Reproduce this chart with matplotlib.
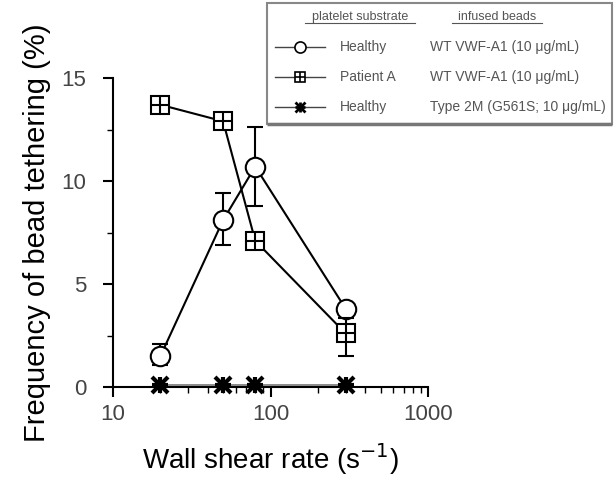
import matplotlib
matplotlib.use("Agg")
import matplotlib.pyplot as plt
from matplotlib.lines import Line2D
from matplotlib.patches import Rectangle

plt.rcParams["font.family"] = ["Liberation Sans", "DejaVu Sans"]

# data
shear_rate = [20, 50, 80, 300]

healthy_wt = [1.5, 8.1, 10.7, 3.8]
healthy_wt_lo = [0.45, 1.2, 1.9, 0.25]
healthy_wt_hi = [0.6, 1.3, 1.9, 0.25]

patient_a_wt = [13.7, 12.9, 7.1, 2.6]
patient_a_wt_lo = [0.15, 0.15, 0.2, 1.1]
patient_a_wt_hi = [0.15, 0.15, 0.2, 0.75]

healthy_2m = [0.1, 0.1, 0.1, 0.1]

legend_rows = [
    ("Healthy", "WT VWF-A1 (10 \u03bcg/mL)"),
    ("Patient A", "WT VWF-A1 (10 \u03bcg/mL)"),
    ("Healthy", "Type 2M (G561S; 10 \u03bcg/mL)"),
]

W, H = 616, 482
fig = plt.figure(figsize=(W / 100, H / 100), dpi=100)
ax = fig.add_axes([113 / W, 1 - 387 / H, (428 - 113) / W, (387 - 78) / H])


def px(x, y):
    return x / W, 1 - y / H


# healthy platelets, WT beads (open circles)
ax.errorbar(shear_rate, healthy_wt, yerr=[healthy_wt_lo, healthy_wt_hi],
            color="black", lw=1.5, capsize=6, capthick=1.5, elinewidth=1.5,
            marker="o", ms=14, mfc="white", mec="black", mew=1.5, zorder=3)

# patient A, WT beads (squares with cross)
ax.errorbar(shear_rate, patient_a_wt, yerr=[patient_a_wt_lo, patient_a_wt_hi],
            color="black", lw=1.5, capsize=6, capthick=1.5, elinewidth=1.5,
            marker="s", ms=13, mfc="white", mec="black", mew=1.5, zorder=4)
ax.plot(shear_rate, patient_a_wt, ls="none", marker="+", ms=13,
        mec="black", mew=1.5, zorder=5)

# healthy platelets, type 2M beads (asterisks)
ax.plot(shear_rate, healthy_2m, color="#777777", lw=1.2, ls="-",
        zorder=5, clip_on=False)
for m in ["x", "+"]:
    ax.plot(shear_rate, healthy_2m, ls="none", marker=m, ms=12,
            mec="black", mew=3, zorder=6, clip_on=False)

ax.set_xscale("log")
ax.set_xlim(10, 1000)
ax.set_ylim(0, 15)
ax.set_yticks([0, 5, 10, 15])
ax.set_yticks([2.5, 7.5, 12.5], minor=True)
ax.set_xticks([10, 100, 1000])
ax.set_xticklabels(["10", "100", "1000"])
ax.spines["top"].set_visible(False)
ax.spines["right"].set_visible(False)
ax.spines["left"].set_linewidth(1.5)
ax.spines["bottom"].set_linewidth(1.5)
ax.tick_params(which="major", direction="out", length=7, width=1.5,
               labelsize=16, labelcolor="#444444")
ax.tick_params(which="minor", direction="out", length=4, width=1.0)
ax.tick_params(axis="y", which="major", pad=12)
ax.tick_params(axis="x", which="major", pad=5)
ax.set_xlabel("Wall shear rate (s$^{-1}$)", fontsize=20, labelpad=12)
ax.set_ylabel("Frequency of bead tethering (%)", fontsize=21, labelpad=8)

# legend box drawn by hand
fig.patches.append(Rectangle(px(267, 124), (612 - 267) / W, (124 - 3) / H,
                             transform=fig.transFigure, fill=False,
                             edgecolor="#888888", lw=1.5, zorder=10))
fig.patches.append(Rectangle(px(267, 124), (612 - 267) / W, 0,
                             transform=fig.transFigure, fill=False,
                             edgecolor="#777777", lw=2.5, zorder=10))

txt_color = "#555555"
fig.text(*px(360, 17), "platelet substrate", fontsize=9, color=txt_color,
         ha="center", va="center")
fig.text(*px(497, 17), "infused beads", fontsize=9, color=txt_color,
         ha="center", va="center")
for x0, x1 in [(305, 415), (452, 542)]:
    fig.lines.append(Line2D([x0 / W, x1 / W], [1 - 23 / H, 1 - 23 / H],
                            transform=fig.transFigure, color=txt_color, lw=0.8))

markers = [
    [dict(marker="o", ms=8, mfc="white", mec="black", mew=1.2)],
    [dict(marker="s", ms=7, mfc="white", mec="black", mew=1.2),
     dict(marker="+", ms=7, mec="black", mew=1.2)],
    [dict(marker="x", ms=7, mec="black", mew=2),
     dict(marker="+", ms=7, mec="black", mew=2)],
]
for i, (substrate, beads) in enumerate(legend_rows):
    y = 47 + 30 * i
    fig.lines.append(Line2D([275 / W, 325 / W], [1 - y / H] * 2,
                            transform=fig.transFigure, color="#444444", lw=1.0))
    for mk in markers[i]:
        fig.lines.append(Line2D([300 / W], [1 - y / H], transform=fig.transFigure,
                                ls="none", **mk))
    fig.text(*px(340, y), substrate, fontsize=10, color=txt_color, va="center")
    fig.text(*px(430, y), beads, fontsize=10, color=txt_color, va="center")

fig.savefig("out.png", dpi=100)
